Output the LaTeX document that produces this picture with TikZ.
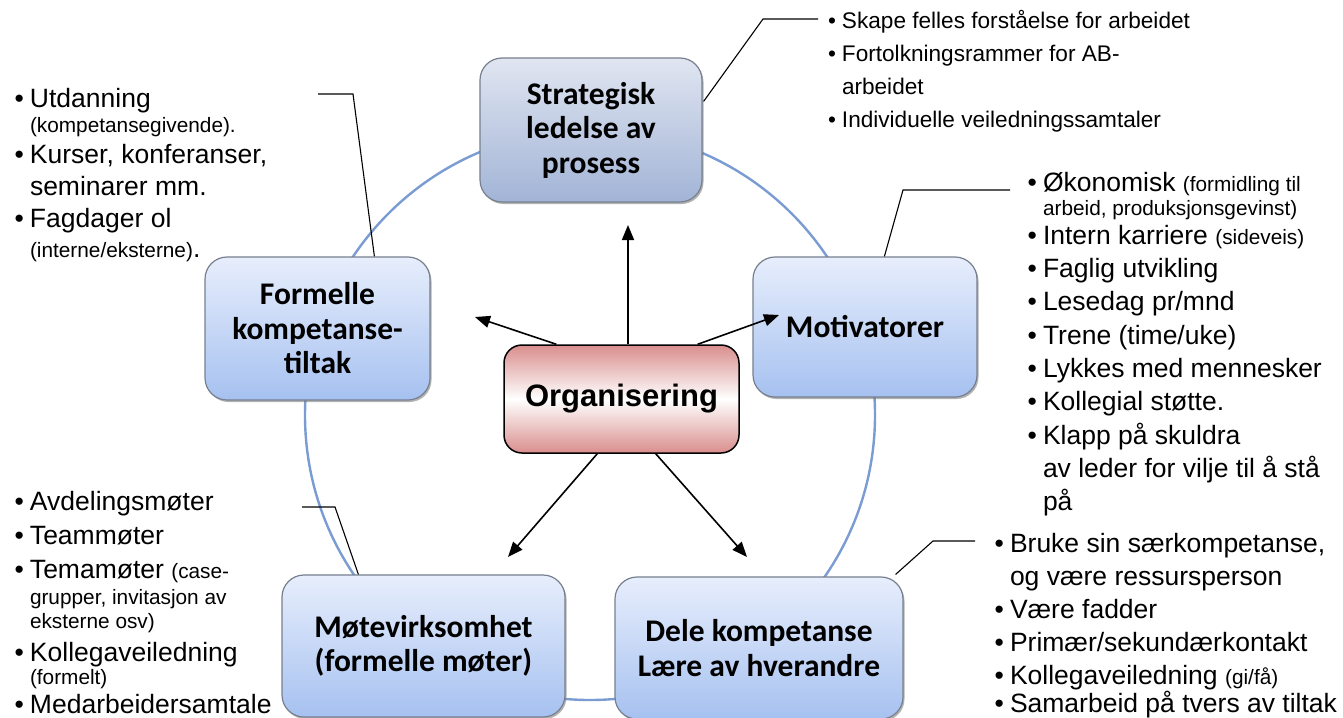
\documentclass[tikz,border=0pt]{standalone}
\usepackage{fontspec}
\setmainfont{Liberation Sans}
\newfontfamily\boxfont{Carlito}
\usetikzlibrary{arrows.meta,shadows,calc}

\definecolor{ringblue}{HTML}{7A9CD2}
\definecolor{stratA}{HTML}{E0E5F1}
\definecolor{stratB}{HTML}{A2B4D6}
\definecolor{boxA}{HTML}{E7EEFC}
\definecolor{boxB}{HTML}{A6C1F0}
\definecolor{boxline}{HTML}{77808F}
\definecolor{orgred}{HTML}{D98E8D}

\newcommand\bul{\llap{\textbullet\hspace{6pt}}}
\newcommand\sml{\fontsize{20.8}{24}\selectfont}

\tikzset{
  topic/.style={rounded corners=22pt, draw=boxline, line width=1.2pt,
    top color=boxA, bottom color=boxB, align=center,
    font=\boxfont\bfseries\fontsize{31.5}{34.5}\selectfont,
    drop shadow={shadow xshift=1.5pt, shadow yshift=-2pt, fill=black!55, opacity=.55}},
  stratbox/.style={topic, top color=stratA, bottom color=stratB},
  centre/.style={rounded corners=18pt, draw=black, line width=1.5pt,
    top color=orgred, bottom color=orgred, middle color=white,
    font=\bfseries\fontsize{31}{34}\selectfont,
    minimum width=235pt, minimum height=108pt},
  ring/.style={draw=ringblue, line width=2.4pt},
  arr/.style={draw=black, line width=1.6pt, -{Triangle[length=15pt,width=12pt]}},
  callout/.style={draw=black, line width=1.1pt},
  ln/.style={anchor=base west, inner sep=0pt, outer sep=0pt, font=\fontsize{26.5}{30}\selectfont},
  lnsm/.style={ln, font=\sml},
  lntr/.style={ln, font=\fontsize{22.6}{28}\selectfont}
}

\begin{document}
\begin{tikzpicture}[x=1pt,y=-1pt]
\useasboundingbox (0,0) rectangle (1343,717);
\fill[white] (0,0) rectangle (1343,717);

% ring behind the five topics
\draw[ring] (590,415) circle[radius=285];

% topics
\node[stratbox, minimum width=222pt, minimum height=144pt] (strat) at (591,130)
  {Strategisk\\ledelse av\\prosess};
\node[topic, minimum width=225pt, minimum height=143pt] (form) at (317.5,328.5)
  {Formelle\\kompetanse-\\tiltak};
\node[topic, minimum width=224pt, minimum height=140pt] (motiv) at (865,327)
  {Motivatorer};
\node[topic, minimum width=283pt, minimum height=142pt] (mote) at (423.5,646)
  {Møtevirksomhet\\(formelle møter)};
\node[topic, minimum width=288pt, minimum height=142pt] (dele) at (759,648)
  {Dele kompetanse\\Lære av hverandre};

% centre
\node[centre] (org) at (621.5,399) {Organisering};

% arrow tips
\coordinate (tipU) at (628,225);
\coordinate (tipL) at (475,317);
\coordinate (tipR) at (779,315);
\coordinate (tipDL) at (508,557);
\coordinate (tipDR) at (747,557);

\draw[arr] (org.north -| tipU) -- (tipU);
\draw[arr] ($(org.north west)+(53,0)$) -- (tipL);
\draw[arr] ($(org.north east)+(-42,0)$) -- (tipR);
\draw[arr] ($(org.south west)+(94,0)$) -- (tipDL);
\draw[arr] ($(org.south east)+(-84,0)$) -- (tipDR);

% callout leaders
\coordinate (cS1) at (763,19);  \coordinate (cS2) at (818,19);
\coordinate (cF1) at (353,94);  \coordinate (cF2) at (318,94);
\coordinate (cM1) at (903,190); \coordinate (cM2) at (1010,190);
\coordinate (cT1) at (335,507); \coordinate (cT2) at (302,507);
\coordinate (cD1) at (933,541); \coordinate (cD2) at (975,541);

\draw[callout] ($(strat.north east)+(1,44)$) -- (cS1) -- (cS2);
\draw[callout] ($(form.north west)+(170,0)$) -- (cF1) -- (cF2);
\draw[callout] ($(motiv.north west)+(132,0)$) -- (cM1) -- (cM2);
\draw[callout] ($(mote.north west)+(77,0)$) -- (cT1) -- (cT2);
\draw[callout] ($(dele.north east)+(-8,-2)$) -- (cD1) -- (cD2);

% list: strategic management
\node[lntr] (s1) at (842,29)  {\bul Skape felles forståelse for arbeidet};
\node[lntr] (s2) at (842,62)  {\bul Fortolkningsrammer for AB-};
\node[lntr] (s3) at (842,94)  {arbeidet};
\node[lntr] (s4) at (842,127) {\bul Individuelle veiledningssamtaler};

% list: formal competence measures
\node[ln]   (f1) at (30,107) {\bul Utdanning};
\node[lnsm] (f2) at (30,132) {(kompetansegivende).};
\node[ln]   (f3) at (30,163) {\bul Kurser, konferanser,};
\node[ln]   (f4) at (30,195) {seminarer mm.};
\node[ln]   (f5) at (30,227) {\bul Fagdager ol};
\node[ln]   (f6) at (30,257) {{\sml (interne/eksterne)}.};

% list: motivators
\node[ln]   (m1)  at (1043,191) {\bul Økonomisk {\sml (formidling til}};
\node[lnsm] (m2)  at (1043,215) {arbeid, produksjonsgevinst)};
\node[ln]   (m3)  at (1043,244) {\bul Intern karriere {\sml (sideveis)}};
\node[ln]   (m4)  at (1043,277) {\bul Faglig utvikling};
\node[ln]   (m5)  at (1043,310) {\bul Lesedag pr/mnd};
\node[ln]   (m6)  at (1043,344) {\bul Trene (time/uke)};
\node[ln]   (m7)  at (1043,377) {\bul Lykkes med mennesker};
\node[ln]   (m8)  at (1043,410) {\bul Kollegial støtte.};
\node[ln]   (m9)  at (1043,444) {\bul Klapp på skuldra};
\node[ln]   (m10) at (1043,477) {av leder for vilje til å stå};
\node[ln]   (m11) at (1043,510) {på};

% list: meetings
\node[ln]   (t1) at (30,510) {\bul Avdelingsmøter};
\node[ln]   (t2) at (30,544) {\bul Teammøter};
\node[ln]   (t3) at (30,578) {\bul Temamøter {\sml (case-}};
\node[lnsm] (t4) at (30,604) {grupper, invitasjon av};
\node[lnsm] (t5) at (30,628) {eksterne osv)};
\node[ln]   (t6) at (30,661) {\bul Kollegaveiledning};
\node[lnsm] (t7) at (30,684) {(formelt)};
\node[ln]   (t8) at (30,713) {\bul Medarbeidersamtale};

% list: sharing competence
\node[ln] (d1) at (1010,552) {\bul Bruke sin særkompetanse,};
\node[ln] (d2) at (1010,585) {og være ressursperson};
\node[ln] (d3) at (1010,618) {\bul Være fadder};
\node[ln] (d4) at (1010,651) {\bul Primær/sekundærkontakt};
\node[ln] (d5) at (1010,684) {\bul Kollegaveiledning {\sml (gi/få)}};
\node[ln] (d6) at (1010,712) {\bul Samarbeid på tvers av tiltak};
\end{tikzpicture}
\end{document}
